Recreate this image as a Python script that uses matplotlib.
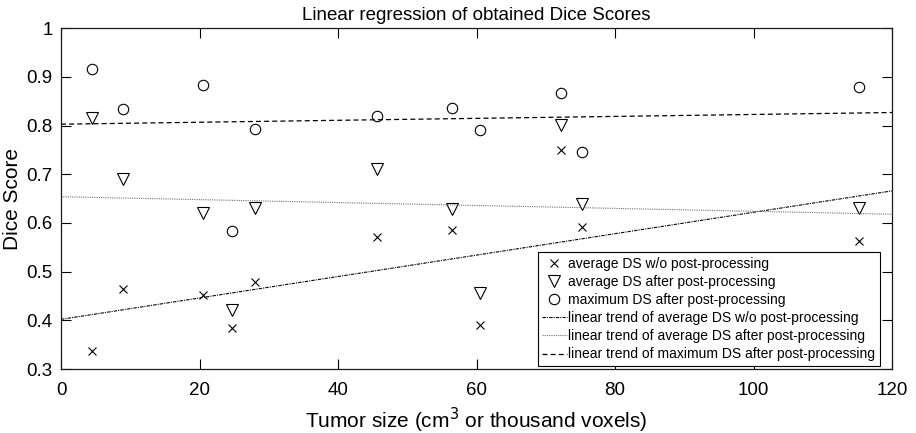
import numpy as np
import matplotlib
matplotlib.use('Agg')
import matplotlib.pyplot as plt

plt.rcParams['font.family'] = ['Liberation Sans', 'DejaVu Sans']

# tumor sizes (x) for every case
tumor_size = [4.5, 9.0, 20.5, 24.7, 28.0, 45.7, 56.4, 60.5, 72.2, 75.3, 115.3]
# dice scores
avg_wo_pp = [0.338, 0.464, 0.453, 0.385, 0.479, 0.572, 0.586, 0.390, 0.749, 0.592, 0.564]
avg_pp = [0.815, 0.690, 0.620, 0.422, 0.631, 0.710, 0.629, 0.457, 0.801, 0.639, 0.631]
max_pp = [0.916, 0.834, 0.884, 0.584, 0.794, 0.819, 0.836, 0.791, 0.867, 0.746, 0.880]

# trend lines, value at x=0 and x=120
trend_x = [0, 120]
trend_avg_wo = [0.402, 0.666]
trend_avg_pp = [0.654, 0.618]
trend_max_pp = [0.803, 0.827]

fig = plt.figure(figsize=(9.16, 4.33), dpi=100)
ax = fig.add_axes([0.0666, 0.1478, 0.9072, 0.7868])

ax.plot(tumor_size, avg_wo_pp, 'x', color='k', ms=6, mew=0.8,
        label='average DS w/o post-processing')
ax.plot(tumor_size, avg_pp, 'v', mfc='none', mec='k', ms=8.5, mew=0.8,
        label='average DS after post-processing')
ax.plot(tumor_size, max_pp, 'o', mfc='none', mec='k', ms=7.5, mew=0.8,
        label='maximum DS after post-processing')
ax.plot(trend_x, trend_avg_wo, color='k', lw=0.8, dashes=(3, 1, 1, 1),
        label='linear trend of average DS w/o post-processing')
ax.plot(trend_x, trend_avg_pp, color='0.45', lw=0.8, dashes=(1, 1),
        label='linear trend of average DS after post-processing')
ax.plot(trend_x, trend_max_pp, color='k', lw=0.9, dashes=(4, 2.5),
        label='linear trend of maximum DS after post-processing')

ax.set_xlim(0, 120)
ax.set_ylim(0.3, 1)
ax.set_xticks(np.arange(0, 121, 20))
ax.set_yticks(np.arange(0.3, 1.01, 0.1))
ax.set_yticklabels(['0.3', '0.4', '0.5', '0.6', '0.7', '0.8', '0.9', '1'])
ax.tick_params(direction='in', length=7, width=0.8, top=True, right=True,
               labelsize=13.5)
ax.tick_params(axis='x', pad=9)
ax.tick_params(axis='y', pad=6)
for s in ax.spines.values():
    s.set_linewidth(0.9)
    s.set_color('0.1')

ax.set_title('Linear regression of obtained Dice Scores', fontsize=13.5, pad=6)
ax.set_xlabel('Tumor size (cm$^3$ or thousand voxels)', fontsize=15, labelpad=5)
ax.set_ylabel('Dice Score', fontsize=15, labelpad=3)

leg = ax.legend(loc='lower right', bbox_to_anchor=(0.985, 0.01), fontsize=10,
                handlelength=1.8, handletextpad=0.1, borderpad=0.3,
                labelspacing=0.3, fancybox=False, framealpha=1,
                edgecolor='k', borderaxespad=0)
leg.get_frame().set_linewidth(0.8)

fig.savefig('out.png', dpi=100)
